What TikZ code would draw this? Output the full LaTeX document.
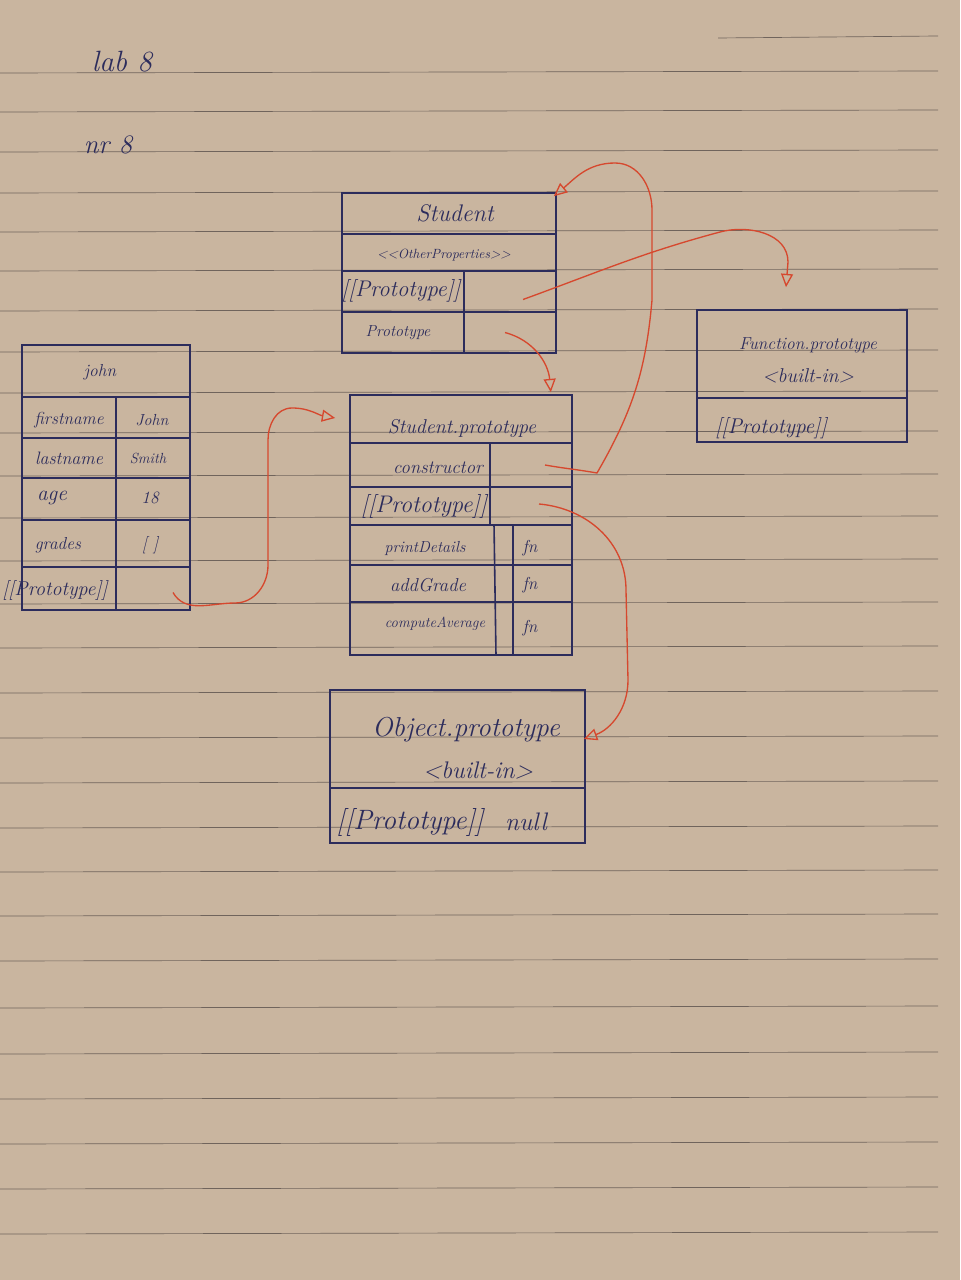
\documentclass[tikz,border=0pt]{standalone}
\usetikzlibrary{fit,calc,arrows.meta}
\definecolor{paper}{RGB}{201,181,159}
\definecolor{rulecol}{RGB}{112,100,92}
\definecolor{ink}{RGB}{44,44,92}
\definecolor{redink}{RGB}{214,72,46}
\newcommand\cel[5]{\node[cellbox, fit={(#2,#3) (#4,#5)}] (#1) {};}
\begin{document}
\begin{tikzpicture}[x=0.75pt,y=-0.75pt,
  cellbox/.style={draw=ink, line width=1.2pt, inner sep=0pt},
  inkline/.style={draw=ink, line width=1.2pt},
  hw/.style={font=\itshape\fontsize{#1}{#1}\selectfont, text=ink, inner sep=0pt},
  link/.style={draw=redink, line width=1pt, -{Triangle[open,length=10pt,width=9pt]}},
  ruling/.style={draw=rulecol, line width=0.5pt}]
\useasboundingbox (0,0) rectangle (960,1280);
\fill[paper] (0,0) rectangle (960,1280);
% ruled paper
\draw[ruling] (718,38) -- (938,36);
\foreach \y in {73,112,152,193,232,271,311,352,393,433,476,518,561,604,648,693,738,783,828,872,916,961,1008,1054,1099,1144,1189,1234}
  \draw[ruling] (0,\y) -- (938,\y-2);

% heading
\node[hw=22] (lab) at (122,62) {lab 8};
\node[hw=20] (nr) at (108,145) {nr 8};

% Student
\cel{stitle}{342}{193}{556}{234}
\cel{sother}{342}{234}{556}{271}
\cel{sprotoL}{342}{271}{464}{312}
\cel{sprotoR}{464}{271}{556}{312}
\cel{sprotL}{342}{312}{464}{353}
\cel{sprotR}{464}{312}{556}{353}
\node[hw=18] (tstudent) at (455,213) {Student};
\node[hw=10] (tother) at (444,255) {<\kern0pt<OtherProperties>\kern0pt>};
\node[hw=17] (tsproto) at (401,291) {[[Prototype]]};
\node[hw=12] (tsprot) at (398,333) {Prototype};

% john
\cel{jtitle}{22}{345}{190}{397}
\cel{jfnL}{22}{397}{116}{438} \cel{jfnR}{116}{397}{190}{438}
\cel{jlnL}{22}{438}{116}{478} \cel{jlnR}{116}{438}{190}{478}
\cel{jagL}{22}{478}{116}{520} \cel{jagR}{116}{478}{190}{520}
\cel{jgrL}{22}{520}{116}{567} \cel{jgrR}{116}{520}{190}{567}
\cel{jprL}{22}{567}{116}{610} \cel{jprR}{116}{567}{190}{610}
\node[hw=13] (tjohn) at (100,372) {john};
\node[hw=13] (tjfn) at (69,420) {firstname};
\node[hw=12] (tjfnv) at (152,420) {John};
\node[hw=13.5] (tjln) at (69,458) {lastname};
\node[hw=11] (tjlnv) at (148,458) {Smith};
\node[hw=16] (tjag) at (52,498) {age};
\node[hw=13] (tjagv) at (150,498) {18};
\node[hw=13] (tjgr) at (58,545) {grades};
\node[hw=13] (tjgrv) at (150,545) {[ ]};
\node[hw=15] (tjpr) at (55,590) {[[Prototype]]};

% Student.prototype
\cel{sptitle}{350}{395}{572}{443}
\cel{spconsL}{350}{443}{490}{487} \cel{spconsR}{490}{443}{572}{487}
\cel{spprL}{350}{487}{490}{525} \cel{spprR}{490}{487}{572}{525}
\cel{sppdL}{350}{525}{513}{565} \cel{sppdR}{513}{525}{572}{565}
\cel{spagL}{350}{565}{513}{602} \cel{spagR}{513}{565}{572}{602}
\cel{spcaL}{350}{602}{513}{655} \cel{spcaR}{513}{602}{572}{655}
\draw[inkline] (sppdL.north east -| 494,0) -- (spcaL.south east -| 496,0);
\node[hw=15] (tsptitle) at (462,428) {Student.prototype};
\node[hw=14] (tspcons) at (438,468) {constructor};
\node[hw=18] (tsppr) at (424,506) {[[Prototype]]};
\node[hw=12] (tsppd) at (425,548) {printDetails};
\node[hw=14] (tspag) at (428,585) {addGrade};
\node[hw=11] (tspca) at (435,624) {computeAverage};
\node[hw=13] (tfn1) at (530,548) {fn};
\node[hw=13] (tfn2) at (530,585) {fn};
\node[hw=13] (tfn3) at (530,628) {fn};

% Function.prototype
\cel{ftitle}{697}{310}{907}{398}
\cel{fproto}{697}{398}{907}{442}
\node[hw=13] (tftitle) at (808,345) {Function.prototype};
\node[hw=15] (tfbuilt) at (808,376) {<built-in>};
\node[hw=16] (tfproto) at (771,428) {[[Prototype]]};

% Object.prototype
\cel{otitle}{330}{690}{585}{788}
\cel{oproto}{330}{788}{585}{843}
\node[hw=20.5] (totitle) at (466,730) {Object.prototype};
\node[hw=18] (tobuilt) at (478,770) {<built-in>};
\node[hw=21] (toproto) at (410,822) {[[Prototype]]};
\node[hw=19] (tonull) at (526,822) {null};

% connectors
\draw[link] ($(jprR.center)+(20,4)$) to[out=-60,in=180] (235,603)
  to[out=0,in=-90] (268,565) -- (268,440) to[out=90,in=180] (292,408)
  to[out=0,in=170] ($(sptitle.west)+(-14,-1)$);
\draw[link] ($(sprotR.center)+(-5,0)$) to[out=-15,in=95] ($(sptitle.north east)+(-22,-2)$);
\draw[link] ($(spconsR.center)+(14,0)$) to[out=-10,in=170] (597,473)
  to[out=60,in=-95] (652,300) -- (652,210) to[out=90,in=0] (615,163)
  to[out=180,in=40] ($(stitle.north east)+(-3,4)$);
\draw[link] ($(sprotoR.center)+(13,8)$) to[out=20,in=195] (720,232)
  to[out=15,in=90] (788,262) -- ($(ftitle.north)+(-16,-22)$);
\draw[link] ($(spprR.center)+(8,-2)$) to[out=-5,in=90] (626,590)
  -- (628,680) to[out=-90,in=20] ($(otitle.east)+(-2,0)$);
\end{tikzpicture}
\end{document}
